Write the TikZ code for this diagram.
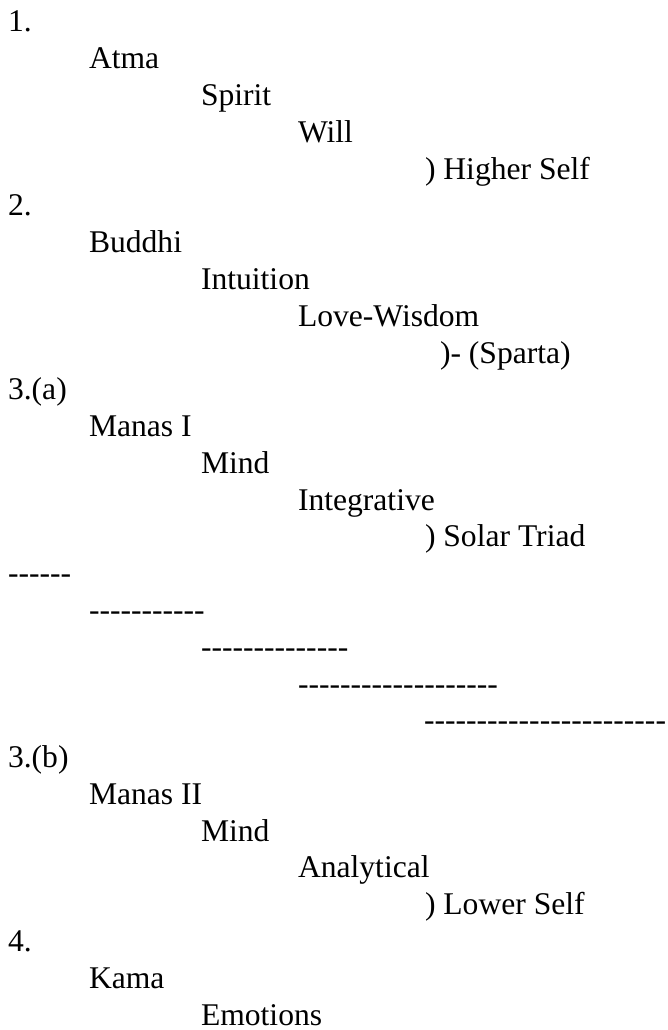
\documentclass[tikz,border=0pt]{standalone}
\usepackage{fontspec}
\setmainfont{Liberation Serif}
\begin{document}
\begin{tikzpicture}[x=0.75pt,y=-0.75pt,
  txt/.style={anchor=base west,inner sep=0pt,outer sep=0pt,font=\fontsize{23.7pt}{27pt}\selectfont}]
\useasboundingbox (0,0) rectangle (667,1030);
\def\ls{36.78}
\def\bz{32}
\def\ca{8}\def\cb{89}\def\cc{201}\def\cd{298}\def\ce{425}
\node[txt] (r0) at (\ca,{\bz+0*\ls}) {1.};
\node[txt] (r1) at (\cb,{\bz+1*\ls}) {Atma};
\node[txt] (r2) at (\cc,{\bz+2*\ls}) {Spirit};
\node[txt] (r3) at (\cd,{\bz+3*\ls}) {Will};
\node[txt] (r4) at (\ce,{\bz+4*\ls}) {) Higher Self};
\node[txt] (r5) at (\ca,{\bz+5*\ls}) {2.};
\node[txt] (r6) at (\cb,{\bz+6*\ls}) {Buddhi};
\node[txt] (r7) at (\cc,{\bz+7*\ls}) {Intuition};
\node[txt] (r8) at (\cd,{\bz+8*\ls}) {Love-Wisdom};
\node[txt] (r9) at (440,{\bz+9*\ls}) {)- (Sparta)};
\node[txt] (r10) at (\ca,{\bz+10*\ls}) {3.(a)};
\node[txt] (r11) at (\cb,{\bz+11*\ls}) {Manas I};
\node[txt] (r12) at (\cc,{\bz+12*\ls}) {Mind};
\node[txt] (r13) at (\cd,{\bz+13*\ls}) {Integrative};
\node[txt] (r14) at (\ce,{\bz+14*\ls}) {) Solar Triad};
\node[txt] (r15) at (\ca,{\bz+15*\ls}) {-{}-{}-{}-{}-{}-};
\node[txt] (r16) at (\cb,{\bz+16*\ls}) {-{}-{}-{}-{}-{}-{}-{}-{}-{}-{}-};
\node[txt] (r17) at (\cc,{\bz+17*\ls}) {-{}-{}-{}-{}-{}-{}-{}-{}-{}-{}-{}-{}-{}-};
\node[txt] (r18) at (\cd,{\bz+18*\ls}) {-{}-{}-{}-{}-{}-{}-{}-{}-{}-{}-{}-{}-{}-{}-{}-{}-{}-{}-};
\node[txt] (r19) at (424,{\bz+19*\ls}) {-{}-{}-{}-{}-{}-{}-{}-{}-{}-{}-{}-{}-{}-{}-{}-{}-{}-{}-{}-{}-{}-{}-};
\node[txt] (r20) at (\ca,{\bz+20*\ls}) {3.(b)};
\node[txt] (r21) at (\cb,{\bz+21*\ls}) {Manas II};
\node[txt] (r22) at (\cc,{\bz+22*\ls}) {Mind};
\node[txt] (r23) at (\cd,{\bz+23*\ls}) {Analytical};
\node[txt] (r24) at (\ce,{\bz+24*\ls}) {) Lower Self};
\node[txt] (r25) at (\ca,{\bz+25*\ls}) {4.};
\node[txt] (r26) at (\cb,{\bz+26*\ls}) {Kama};
\node[txt] (r27) at (\cc,{\bz+27*\ls}) {Emotions};
\end{tikzpicture}
\end{document}
